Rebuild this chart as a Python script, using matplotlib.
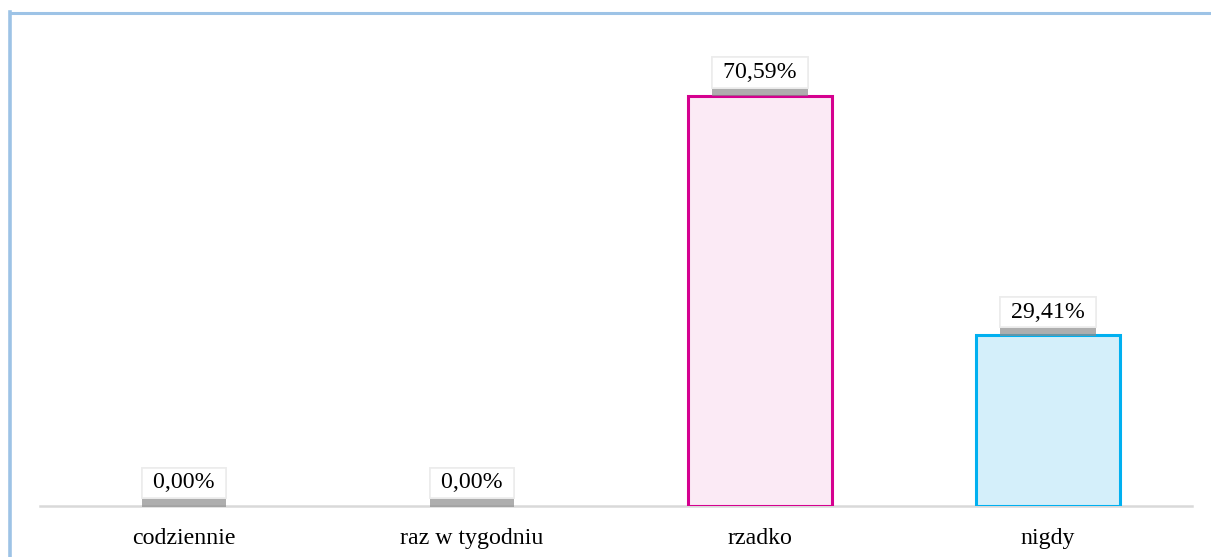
import matplotlib
matplotlib.use("Agg")
import matplotlib.pyplot as plt
import matplotlib.patheffects as pe
from matplotlib.lines import Line2D

categories = ["codziennie", "raz w tygodniu", "rzadko", "nigdy"]
values = [0.0, 0.0, 70.59, 29.41]
face_colors = ["#fde9d9", "#e2efda", "#fbeaf5", "#d4effa"]
edge_colors = ["#f79646", "#70ad47", "#d5008f", "#00b0f0"]

plt.rcParams["font.family"] = ["Liberation Serif", "DejaVu Serif"]

W, H = 1211, 557
fig = plt.figure(figsize=(W / 100, H / 100), dpi=100)
fig.patch.set_facecolor("white")

# plot area in pixel units, converted to figure fractions
left, right, bottom, top = 40, 1192, 506, 41
ax = fig.add_axes([left / W, (H - bottom) / H, (right - left) / W, (bottom - top) / H])
ax.set_xlim(-0.5, len(categories) - 0.5)
ax.set_ylim(0, 80)

x = range(len(categories))
for i, v in enumerate(values):
    ax.bar(i, v, width=0.5, color=face_colors[i], edgecolor=edge_colors[i],
           linewidth=2.2 if v > 0 else 0, zorder=2)

for i, v in enumerate(values):
    label = " " + f"{v:.2f}%".replace(".", ",") + " "
    t = ax.annotate(label, (i, v), xytext=(0, 9),
                    textcoords="offset points", ha="center", va="bottom",
                    fontsize=17.2, color="black", zorder=5,
                    bbox=dict(boxstyle="square,pad=0.2", facecolor="white",
                              edgecolor="#ececec", linewidth=1.2))
    t.get_bbox_patch().set_path_effects([
        pe.withSimplePatchShadow(offset=(0, -6), shadow_rgbFace="#8c8c8c", alpha=0.7),
        pe.Normal(),
    ])

ax.set_xticks(list(x))
ax.set_xticklabels(categories, fontsize=17.2)
ax.tick_params(axis="x", length=0, pad=16)
ax.set_yticks([])
for name, spine in ax.spines.items():
    spine.set_visible(name == "bottom")
ax.spines["bottom"].set_color("#d9d9d9")
ax.spines["bottom"].set_linewidth(1.8)
ax.spines["bottom"].set_zorder(1)

# light blue frame along the top and left edges
frame = "#9dc3e6"
fig.add_artist(Line2D([10.5 / W, 1.0], [1 - 13 / H, 1 - 13 / H], color=frame,
                      linewidth=2.2, transform=fig.transFigure))
fig.add_artist(Line2D([10.5 / W, 10.5 / W], [0.0, 1 - 12 / H], color=frame,
                      linewidth=2.6, transform=fig.transFigure))

fig.savefig("out.png", dpi=100)
